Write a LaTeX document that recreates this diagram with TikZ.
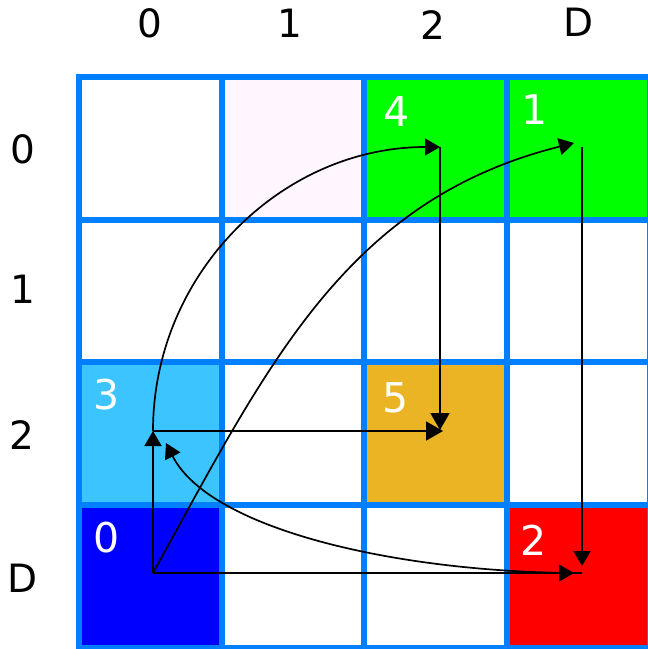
\documentclass[tikz,border=0pt]{standalone}
\usepackage{fontspec}
\setmainfont{DejaVu Sans}
\usetikzlibrary{arrows.meta}
\definecolor{gridblue}{RGB}{0,128,255}
\definecolor{pinkish}{RGB}{255,246,255}
\definecolor{lightb}{RGB}{60,196,255}
\definecolor{goldc}{RGB}{235,180,36}
\definecolor{greenc}{RGB}{0,255,0}
\tikzset{
  hdr/.style={font=\fontsize{39}{42}\selectfont, text=black, inner sep=0pt},
  lbl/.style={font=\fontsize{41}{44}\selectfont, text=white, inner sep=0pt},
  cellbox/.style={minimum width=143pt, minimum height=143pt, inner sep=0pt, draw=none},
  gridline/.style={draw=gridblue, line width=6pt},
  conn/.style={draw=black, line width=1.7pt, -{Triangle[length=15pt,width=17pt]}},
  bigconn/.style={draw=black, line width=1.7pt, -{Triangle[length=17pt,width=19pt]}}
}
\begin{document}
\begin{tikzpicture}[x=1pt,y=-1pt]
\useasboundingbox (0,0) rectangle (648,649);
\fill[white] (0,0) rectangle (648,649);
% cell fills
\node[cellbox, fill=pinkish] (c01) at (292.5,148.5) {};
\node[cellbox, fill=greenc] (c02) at (435.5,148.5) {};
\node[cellbox, fill=greenc] (c03) at (578.5,148.5) {};
\node[cellbox, fill=lightb] (c20) at (150,433.5) {};
\node[cellbox, fill=goldc] (c22) at (435.5,433.5) {};
\node[cellbox, fill=blue] (c30) at (150,576.5) {};
\node[cellbox, fill=red] (c33) at (578.5,576.5) {};
% grid
\foreach \x in {79,221.5,364,507,650} \draw[gridline] (\x,74) -- (\x,651);
\foreach \y in {77,219.5,362,505,648} \draw[gridline] (76,\y) -- (653,\y);
% headers
\node[hdr] (h0) at (150,23) {0};
\node[hdr] (h1) at (290,23) {1};
\node[hdr] (h2) at (433,25) {2};
\node[hdr] (hD) at (579,22) {D};
\node[hdr] (v0) at (23,149) {0};
\node[hdr] (v1) at (23,289) {1};
\node[hdr] (v2) at (22,435) {2};
\node[hdr] (vD) at (23,578) {D};
% cell labels
\node[lbl] (l4) at (396.5,112) {4};
\node[lbl] (l1) at (535,110) {1};
\node[lbl] (l3) at (107,395) {3};
\node[lbl] (l5) at (396,398) {5};
\node[lbl] (l0) at (107,538) {0};
\node[lbl] (l2) at (534,540) {2};
% arrow points
\coordinate (p0) at (153,573);
\coordinate (p3) at (153,431);
\coordinate (p4) at (440,147);
\coordinate (p5) at (440,430);
\coordinate (p1) at (582,147);
\coordinate (p2) at (582,573);
\coordinate (t1) at (574,143);
\coordinate (t2) at (574,573);
\coordinate (t21) at (582,566);
\coordinate (t3) at (166,443);
\coordinate (t35) at (443,431);
% connectors
\draw[conn] (p0) -- (p3);
\draw[bigconn] (p3) -- (t35);
\draw[bigconn] (p4) -- (p5);
\draw[conn] (p3) .. controls (153,273) and (282,147) .. (p4);
\draw[conn] (p0) .. controls (267,367) and (345,200) .. (t1);
\draw[conn] (p1) -- (t21);
\draw[conn] (p0) -- (t2);
\draw[conn] (p2) .. controls (400,573) and (210,530) .. (t3);
\end{tikzpicture}
\end{document}
